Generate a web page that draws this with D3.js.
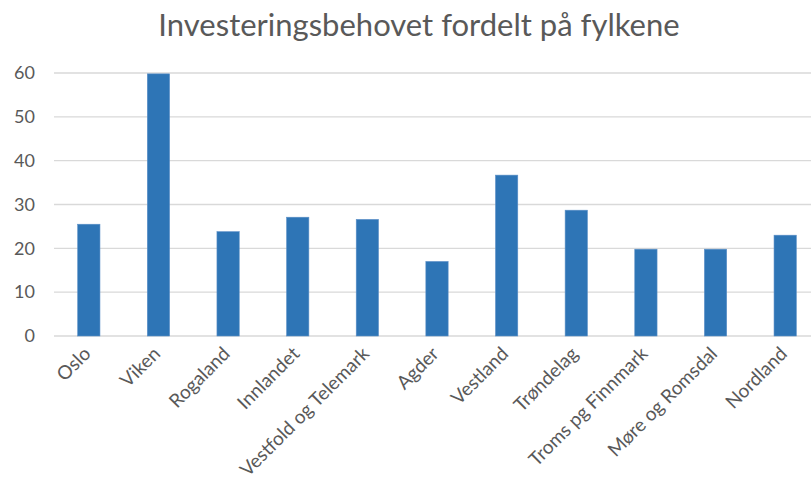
<!DOCTYPE html>
<html>
<head>
<meta charset="utf-8">
<script src="https://cdn.jsdelivr.net/npm/d3@7"></script>
<style>
  body { margin: 0; background: #fff; }
  svg { display: block; font-family: Lato, "Open Sans", sans-serif; }
  .grid line { stroke: #d9d9d9; stroke-width: 1.3; }
</style>
</head>
<body>
<svg width="811" height="482"></svg>
<script>
var categories = ["Oslo", "Viken", "Rogaland", "Innlandet", "Vestfold og Telemark", "Agder",
  "Vestland", "Trøndelag", "Troms pg Finnmark", "Møre og Romsdal", "Nordland"];
var values = [25.5, 59.8, 23.8, 27.1, 26.6, 17.0, 36.7, 28.7, 19.8, 19.8, 23.0];
var yTicks = [0, 10, 20, 30, 40, 50, 60];
var title = "Investeringsbehovet fordelt på fylkene";

var svg = d3.select("svg"),
    margin = {top: 73, left: 54},
    width = 766,
    height = 263,
    g = svg.append("g").attr("transform", "translate(" + margin.left + "," + margin.top + ")");

var x = d3.scaleBand().domain(categories).range([0, width]).paddingInner(0.68).paddingOuter(0.34),
    y = d3.scaleLinear().domain([0, 60]).range([height, 0]);

svg.append("text")
    .attr("x", 419)
    .attr("y", 36)
    .attr("text-anchor", "middle")
    .attr("fill", "#595959")
    .style("font-size", "31px")
    .text(title);

// gridlines
g.append("g")
    .attr("class", "grid")
    .selectAll("line")
    .data(yTicks)
    .enter().append("line")
      .attr("x1", 0)
      .attr("x2", width)
      .attr("y1", function(d) { return y(d); })
      .attr("y2", function(d) { return y(d); });

var yAxis = g.append("g")
    .call(d3.axisLeft(y).tickValues(yTicks).tickSize(0).tickPadding(19));
yAxis.select(".domain").remove();
yAxis.attr("font-family", null).attr("font-size", null);
yAxis.selectAll("text")
    .attr("fill", "#595959")
    .style("font-size", "18px");

g.selectAll(".bar")
    .data(values)
    .enter().append("rect")
      .attr("class", "bar")
      .attr("x", function(d, i) { return x(categories[i]); })
      .attr("width", x.bandwidth())
      .attr("y", function(d) { return y(d); })
      .attr("height", function(d) { return height - y(d); })
      .attr("fill", "#2e75b6")
      .attr("stroke", "#5b8fc7")
      .attr("stroke-width", 0.6);

var xAxis = g.append("g")
    .attr("transform", "translate(0," + height + ")")
    .call(d3.axisBottom(x).tickSize(0).tickPadding(0));
xAxis.select(".domain").remove();
xAxis.attr("font-family", null).attr("font-size", null);
xAxis.selectAll("text")
    .attr("fill", "#595959")
    .style("font-size", "19px")
    .attr("text-anchor", "end")
    .attr("y", 0)
    .attr("dy", "0")
    .attr("transform", "translate(3,19) rotate(-45)");
</script>
</body>
</html>
